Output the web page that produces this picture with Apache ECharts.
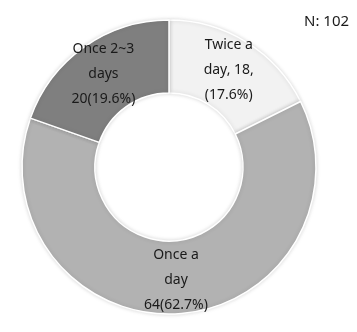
<!DOCTYPE html>
<html><head><meta charset="utf-8">
<script src="https://cdn.jsdelivr.net/npm/echarts@6/dist/echarts.min.js"></script>
<style>html,body{margin:0;padding:0;background:#fff}#c{width:357px;height:332px}</style>
</head><body><div id="c"></div>
<script>
var categories = ['Twice a day', 'Once a day', 'Once 2~3 days'];
var values = [18, 64, 20];
var labelTexts = ['Twice a\nday, 18,\n(17.6%)', 'Once a\nday\n64(62.7%)', 'Once 2~3\ndays\n20(19.6%)'];
var colors = ['#f2f2f2', '#b2b2b2', '#7f7f7f'];
var total = 102;

var chart = echarts.init(document.getElementById('c'), null, {renderer: 'canvas'});
chart.setOption({
  animation: false,
  graphic: [{
    type: 'text', left: 304, top: 14,
    style: {text: 'N: ' + total, font: '15px "Noto Sans", sans-serif', fill: '#1a1a1a'}
  }],
  series: [{
    type: 'pie',
    center: [169, 167],
    radius: [74, 147],
    startAngle: 90,
    clockwise: true,
    avoidLabelOverlap: false,
    label: {
      show: true, position: 'inside',
      formatter: function (p) { return labelTexts[p.dataIndex]; },
      fontFamily: '"Noto Sans", sans-serif',
      fontSize: 14, lineHeight: 25, color: '#1a1a1a'
    },
    labelLine: {show: false},
    emphasis: {disabled: true},
    itemStyle: {borderColor: '#ffffff', borderWidth: 1.5, shadowBlur: 4, shadowColor: 'rgba(0,0,0,0.15)'},
    data: categories.map(function (c, i) {
      return {name: c, value: values[i], itemStyle: {color: colors[i]}};
    })
  }]
});
</script></body></html>
